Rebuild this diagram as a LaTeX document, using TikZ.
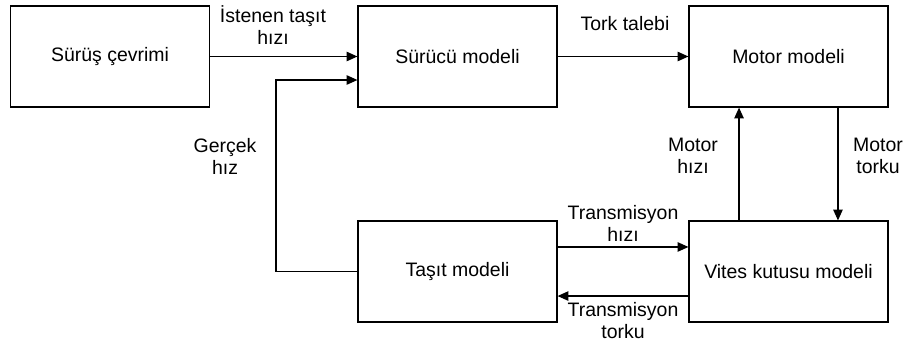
\documentclass[tikz,border=0pt]{standalone}
\usepackage{fontspec}
\setmainfont{Liberation Sans}
\usetikzlibrary{positioning,arrows.meta}

\begin{document}
\begin{tikzpicture}[x=0.75pt,y=0.75pt,yscale=-1,xscale=1,
  blok/.style={draw, line width=0.9pt, minimum width=149.25pt, minimum height=75.75pt, inner sep=0pt,
    font=\fontsize{14.6}{17}\selectfont},
  ok/.style={-{Triangle[length=8pt,width=7pt]}, line width=0.9pt},
  etiket/.style={align=center, inner sep=0.75pt, font=\fontsize{14.6}{16.5}\selectfont}]
  \useasboundingbox (0,0) rectangle (910,347);

  % Blocks
  \node [blok] (cevrim) at (110,56.5) {Sürüş çevrimi};
  \node [blok] (surucu) at (457.5,56.5) {Sürücü modeli};
  \node [blok] (motor) at (788.5,56.5) {Motor modeli};
  \node [blok] (tasit) at (457.5,271.5) {Taşıt modeli};
  \node [blok] (vites) at (788.5,271.5) {Vites kutusu modeli};

  % Feedback corner
  \coordinate (donus) at (276,80);

  % Connectors
  \draw [ok] (cevrim) -- (surucu);
  \draw [ok] (tasit.west) -| (donus) -- (surucu.west |- donus);
  \draw [ok] (surucu) -- (motor);
  \draw [ok] ([xshift=-37.1pt]vites.north) -- ([xshift=-37.1pt]motor.south);
  \draw [ok] ([xshift=37.1pt]motor.south) -- ([xshift=37.1pt]vites.north);
  \draw [ok] ([yshift=-18.4pt]tasit.east) -- ([yshift=-18.4pt]vites.west);
  \draw [ok] ([yshift=18.4pt]vites.west) -- ([yshift=18.4pt]tasit.east);

  % Text Nodes
  \node [etiket] (istenen) at (273,25) {İstenen taşıt\\hızı};
  \node [etiket] (gercek) at (225,156) {Gerçek\\hız};
  \node [etiket] (tork) at (625,24) {Tork talebi};
  \node [etiket] (mhiz) at (693,156) {Motor\\hızı};
  \node [etiket] (mtork) at (878,156) {Motor\\torku};
  \node [etiket] (thiz) at (623,223) {Transmisyon\\hızı};
  \node [etiket] (ttork) at (623,321) {Transmisyon\\torku};
\end{tikzpicture}
\end{document}
